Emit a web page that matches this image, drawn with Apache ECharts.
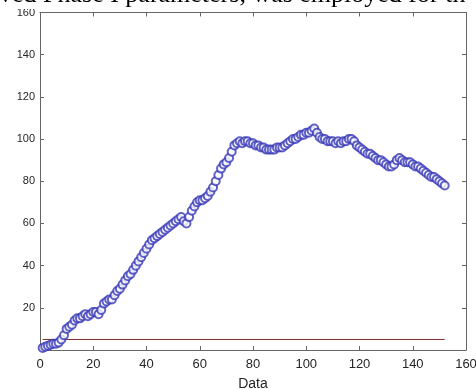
<!DOCTYPE html>
<html><head><meta charset="utf-8">
<script src="https://cdn.jsdelivr.net/npm/echarts@6/dist/echarts.min.js"></script>
<style>html,body{margin:0;padding:0;background:#fff}#c{width:476px;height:389px}</style>
</head><body><div id="c"></div>
<script>
const xLabelTitle = 'Data';
const captionText = 'ved Phase I parameters, was employed for th';
const dataValues = [
 1,1.5,2,2.5,3,3,3.5,5,7,10,
 11,12,14,15,15,16,17,16,17,18,
 18,17,19,22,23,24,24,26,28,29,
 31,33,35,36,38,40,42,44,46,48,
 50,52,53,54,55,56,57,58,59,60,
 61,62,63,61,60,63,66,68,70,71,
 71,72,73,75,77,80,83,86,88,89,
 91,94,97,98,99,98,99,99,98,98,
 97,97,96,96,95,95,95,95,96,96,
 96,97,98,99,100,100,101,102,102,103,
 103,104,105,103,101,100,100,99,99,99,
 98,99,98,99,99,100,100,99,97,96,
 95,94,93,93,92,91,90,90,89,88,
 87,87,88,90,91,90,89,89,89,88,
 87,87,86,85,84,83,82,82,81,80,
 79,78
];
const limitValue = 5;
const limitRange = [1, 152];

const points = dataValues.map((v,i)=>[i+1, v]);
const chart = echarts.init(document.getElementById('c'), null, {renderer:'canvas'});
const axisColor = '#666';
const fam = 'Liberation Sans, Arial, sans-serif';
chart.setOption({
  animation:false,
  grid:{left:40, right:10, top:12.5, bottom:39, containLabel:false, outerBoundsMode:'none'},
  xAxis:[{
    type:'value', min:0, max:160, interval:20,
    name:xLabelTitle, nameLocation:'middle', nameGap:27,
    nameTextStyle:{color:'#262626', fontSize:14, fontFamily:fam},
    axisLine:{show:true, onZero:false, lineStyle:{color:axisColor}},
    axisTick:{show:true, inside:true, length:4, lineStyle:{color:axisColor}},
    axisLabel:{margin:8, color:'#262626', fontSize:13, fontFamily:fam},
    splitLine:{show:false}
  },{
    type:'value', min:0, max:160, interval:20, position:'top',
    axisLine:{show:true, onZero:false, lineStyle:{color:axisColor}},
    axisTick:{show:true, inside:true, length:4, lineStyle:{color:axisColor}},
    axisLabel:{show:false}, splitLine:{show:false}
  }],
  yAxis:[{
    type:'value', min:0, max:160, interval:20,
    axisLine:{show:true, onZero:false, lineStyle:{color:axisColor}},
    axisTick:{show:true, inside:true, length:4, lineStyle:{color:axisColor}},
    axisLabel:{margin:5, formatter:v=> v===0?'':String(v), color:'#262626', fontSize:11, fontFamily:fam},
    splitLine:{show:false}
  },{
    type:'value', min:0, max:160, interval:20, position:'right',
    axisLine:{show:true, onZero:false, lineStyle:{color:axisColor}},
    axisTick:{show:true, inside:true, length:4, lineStyle:{color:axisColor}},
    axisLabel:{show:false}, splitLine:{show:false}
  }],
  series:[{
    type:'line', data:limitRange.map(x=>[x, limitValue]),
    symbol:'none', lineStyle:{color:'#7a2c2c', width:1}, z:1
  },{
    type:'scatter', data:points, symbol:'emptyCircle', symbolSize:8,
    itemStyle:{color:'#3a3ab8', borderWidth:1}, z:2
  }],
  graphic:[{
    type:'rect', left:0, top:0, z:100,
    shape:{width:476, height:9}, style:{fill:'#fff'}
  },{
    type:'text', x:-1, y:8, z:101,
    style:{text:captionText, fill:'#000', font:'26px "Liberation Serif", "Times New Roman", serif', textVerticalAlign:'bottom', textBaseline:'alphabetic'}
  }]
});
</script></body></html>
